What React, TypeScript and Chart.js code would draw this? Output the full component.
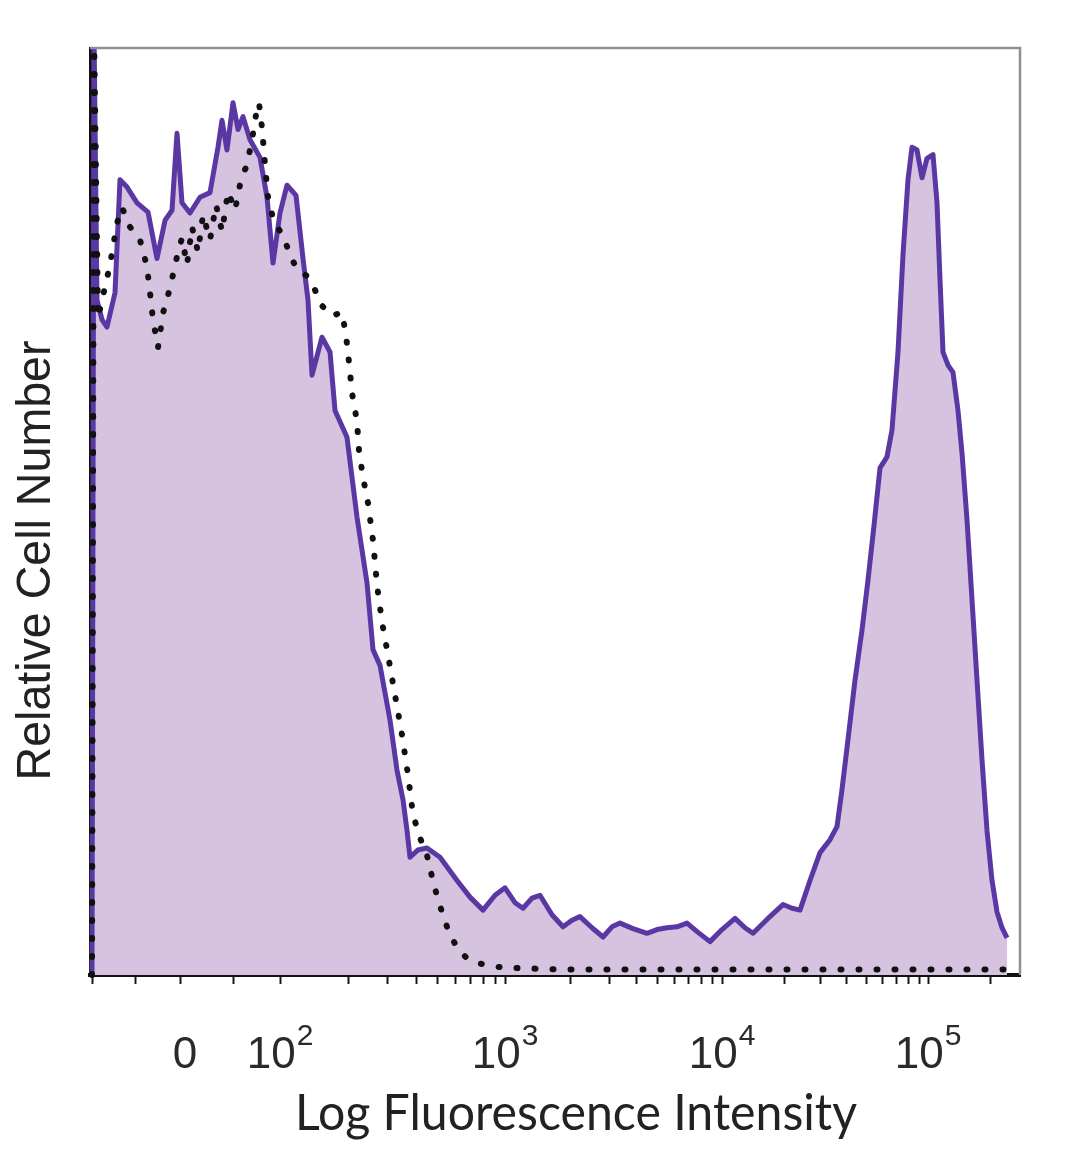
import React, { useEffect, useRef } from "react";
import { Chart, registerables } from "chart.js";

Chart.register(...registerables);

// Stained sample: [display channel, relative cell number]
const STAINED_POINTS: [number, number][] = [
  [2, 0], [4, 102], [7, 72.8], [12, 70.7], [17, 69.9], [25, 73.6], [30, 85.8], [37, 85.0],
  [47, 83.3], [58, 82.3], [67, 77.3], [75, 81.4], [82, 82.5], [87, 90.8], [92, 83.3], [100, 82.2],
  [110, 83.9], [120, 84.4], [128, 89.3], [132, 92.2], [137, 89.0], [143, 94.1], [148, 91.2], [153, 92.6],
  [160, 90.1], [170, 88.2], [177, 83.9], [183, 76.8], [190, 82.2], [197, 85.2], [206, 84.1], [213, 77.3],
  [218, 72.8], [222, 64.7], [232, 68.8], [240, 67.2], [245, 60.9], [257, 58.0], [267, 49.4], [277, 42.3],
  [283, 35.1], [290, 33.4], [300, 27.5], [307, 22.1], [313, 18.9], [317, 15.6], [320, 12.7], [328, 13.5],
  [337, 13.7], [350, 12.7], [367, 10.2], [380, 8.4], [393, 7.0], [405, 8.6], [415, 9.4], [425, 7.8],
  [433, 7.2], [442, 8.3], [450, 8.6], [462, 6.5], [473, 5.2], [482, 5.9], [490, 6.3], [502, 5.1],
  [513, 4.1], [522, 5.2], [530, 5.6], [543, 5.0], [557, 4.5], [567, 4.9], [577, 5.1], [587, 5.2],
  [597, 5.6], [608, 4.6], [620, 3.6], [632, 4.9], [645, 6.1], [655, 5.1], [663, 4.5], [678, 6.1],
  [693, 7.6], [702, 7.2], [710, 7.0], [720, 10.2], [730, 13.2], [740, 14.6], [747, 16.0], [752, 20.0],
  [758, 25.4], [765, 31.8], [772, 37.2], [778, 42.6], [784, 48.5], [790, 54.7], [797, 55.9], [802, 58.8],
  [808, 67.2], [813, 77.7], [818, 85.8], [822, 89.3], [827, 89.0], [832, 86.0], [837, 88.1], [843, 88.5],
  [847, 83.3], [850, 75.0], [853, 67.2], [858, 65.8], [863, 65.0], [868, 60.9], [872, 56.3], [877, 49.1],
  [882, 40.5], [887, 31.8], [892, 23.2], [897, 15.6], [902, 10.2], [907, 6.8], [912, 5.1], [917, 4.0],
];

// Isotype control: [display channel, relative cell number]
const ISOTYPE_POINTS: [number, number][] = [
  [2, 0], [4, 102], [8, 70.9], [20, 76.6], [27, 81.1], [32, 82.8], [40, 80.7], [50, 79.3],
  [57, 76.4], [60, 73.6], [63, 70.7], [68, 67.7], [73, 71.4], [80, 74.1], [87, 77.5], [92, 79.5],
  [97, 76.6], [102, 80.7], [108, 78.0], [113, 82.0], [120, 79.3], [126, 83.1], [132, 80.2], [138, 84.5],
  [145, 82.5], [151, 85.8], [157, 87.4], [162, 90.1], [166, 92.8], [169, 94.1], [172, 91.4], [175, 87.4],
  [178, 83.9], [184, 81.2], [193, 79.8], [200, 77.7], [207, 76.1], [217, 75.4], [225, 73.9], [232, 72.2],
  [242, 71.1], [252, 71.5], [256, 69.0], [259, 66.1], [262, 62.8], [267, 59.7], [269, 56.6], [273, 53.7],
  [278, 50.9], [283, 46.9], [287, 42.1], [292, 38.1], [298, 34.5], [305, 30.2], [312, 25.9], [318, 21.6],
  [323, 17.3], [330, 14.8], [337, 12.9], [342, 10.6], [348, 8.1], [357, 5.2], [367, 2.9], [377, 1.8],
  [387, 1.3], [400, 1.0], [413, 0.8], [470, 0.6], [560, 0.6], [660, 0.6], [760, 0.6], [860, 0.6], [915, 0.6],
];

const X_MIN = 0;
const X_MAX = 930;
const Y_MIN = 0;
const Y_MAX = 100;

const MAJOR_TICK_POS = [90, 190, 415, 632, 838];
const MAJOR_TICK_BASE = ["0", "10", "10", "10", "10"];
const MAJOR_TICK_EXP = ["", "2", "3", "4", "5"];
const MINOR_TICK_POS = [
  2, 45, 143,
  258, 297, 326, 347, 365, 380, 393, 405,
  480, 519, 546, 567, 584, 598, 611, 622,
  694, 730, 756, 776, 792, 806, 818, 829,
  900,
];

const X_TITLE = "Log Fluorescence Intensity";
const Y_TITLE = "Relative Cell Number";

const FILL_COLOR = "#d6c3e0";
const LINE_COLOR = "#5a38a4";
const DOT_COLOR = "#111111";

function fitText(ctx: CanvasRenderingContext2D, text: string, cx: number, baseline: number, font: string, width: number) {
  ctx.save();
  ctx.font = font;
  const w = ctx.measureText(text).width;
  ctx.translate(cx, baseline);
  ctx.scale(width / w, 1);
  ctx.textAlign = "center";
  ctx.textBaseline = "alphabetic";
  ctx.fillText(text, 0, 0);
  ctx.restore();
}

const decorPlugin = {
  id: "decor",
  afterDraw(chart: any) {
    const { ctx, chartArea: a } = chart;
    const xs = chart.scales.x;
    ctx.save();
    // top and right frame
    ctx.strokeStyle = "#8f8f8f";
    ctx.lineWidth = 2.5;
    ctx.beginPath();
    ctx.moveTo(a.left, a.top);
    ctx.lineTo(a.right, a.top);
    ctx.lineTo(a.right, a.bottom);
    ctx.stroke();

    // tick labels
    ctx.fillStyle = "#2a2a2a";
    ctx.textBaseline = "alphabetic";
    ctx.textAlign = "left";
    const baseFont = '44px "Liberation Sans", Arial, sans-serif';
    const expFont = '30px "Liberation Sans", Arial, sans-serif';
    MAJOR_TICK_POS.forEach((v, i) => {
      const px = xs.getPixelForValue(v);
      const base = MAJOR_TICK_BASE[i];
      const exp = MAJOR_TICK_EXP[i];
      ctx.font = baseFont;
      const bw = ctx.measureText(base).width;
      ctx.font = expFont;
      const ew = exp ? ctx.measureText(exp).width + 1 : 0;
      const start = px - (bw + ew) / 2 + (exp ? 0 : 5);
      ctx.font = baseFont;
      ctx.fillText(base, start, a.bottom + 93);
      if (exp) {
        ctx.font = expFont;
        ctx.fillText(exp, start + bw + 1, a.bottom + 70);
      }
    });

    // axis titles
    ctx.fillStyle = "#222222";
    fitText(ctx, X_TITLE, (a.left + a.right) / 2 + 21, a.bottom + 155, '50px Lato, "Liberation Sans", sans-serif', 562);
    ctx.save();
    ctx.translate(a.left - 40, (a.top + a.bottom) / 2 + 49);
    ctx.rotate(-Math.PI / 2);
    fitText(ctx, Y_TITLE, 0, 0, '48px "Liberation Sans", Arial, sans-serif', 440);
    ctx.restore();
    ctx.restore();
  },
};

export default function App() {
  const canvasRef = useRef<HTMLCanvasElement | null>(null);

  useEffect(() => {
    if (!canvasRef.current) return;
    const allTicks = [...MAJOR_TICK_POS, ...MINOR_TICK_POS].sort((p, q) => p - q);
    const chart = new Chart(canvasRef.current, {
      type: "line",
      data: {
        datasets: [
          {
            label: "Isotype control",
            data: ISOTYPE_POINTS.map(([x, y]) => ({ x, y })),
            borderColor: DOT_COLOR,
            borderWidth: 6,
            borderDash: [1, 17],
            borderCapStyle: "round",
            pointRadius: 0,
            tension: 0,
            fill: false,
            order: 0,
            clip: { left: 4, top: 0, right: 4, bottom: 4 },
          },
          {
            label: "Stained",
            data: STAINED_POINTS.map(([x, y]) => ({ x, y })),
            borderColor: LINE_COLOR,
            backgroundColor: FILL_COLOR,
            borderWidth: 5,
            borderJoinStyle: "round",
            pointRadius: 0,
            tension: 0,
            fill: "origin",
            order: 1,
            clip: { left: 4, top: 0, right: 4, bottom: 4 },
          },
        ],
      },
      options: {
        animation: false,
        responsive: false,
        devicePixelRatio: 1,
        parsing: true,
        layout: { padding: { left: 90, right: 60, top: 48, bottom: 134 } },
        plugins: {
          legend: { display: false },
          tooltip: { enabled: false },
          title: { display: false },
        },
        scales: {
          x: {
            type: "linear",
            min: X_MIN,
            max: X_MAX,
            afterBuildTicks: (s: any) => {
              s.ticks = allTicks.map((v) => ({ value: v }));
            },
            afterFit: (s: any) => {
              s.height = 60;
            },
            ticks: { display: false, autoSkip: false },
            grid: {
              drawOnChartArea: false,
              drawTicks: true,
              tickLength: 9,
              tickColor: "#1a1a1a",
              tickWidth: 2,
            },
            border: { display: true, color: "#111111", width: 4 },
          },
          y: {
            type: "linear",
            min: Y_MIN,
            max: Y_MAX,
            afterFit: (s: any) => {
              s.width = 0;
            },
            ticks: { display: false },
            grid: { display: false, drawTicks: false },
            border: { display: true, color: "#111111", width: 3 },
          },
        },
      },
      plugins: [decorPlugin],
    } as any);
    return () => chart.destroy();
  }, []);

  return (
    <div style={{ position: "absolute", left: 0, top: 0, width: 1080, height: 1169, background: "#ffffff" }}>
      <canvas ref={canvasRef} width={1080} height={1169} style={{ width: 1080, height: 1169, display: "block" }} />
    </div>
  );
}
